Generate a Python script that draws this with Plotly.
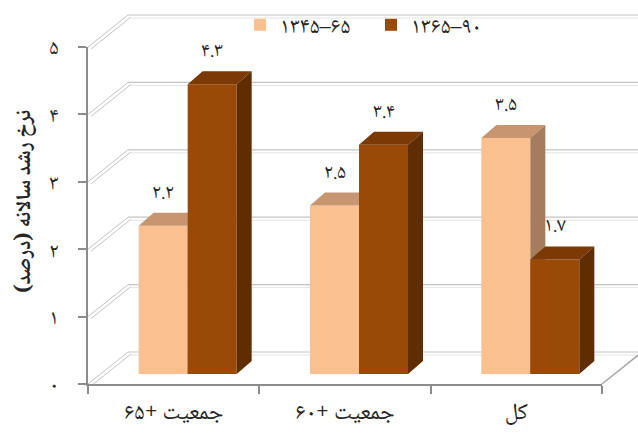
import plotly.graph_objects as go

# ---- data ----
categories = ["جمعیت +۶۵", "جمعیت +۶۰", "کل"]
series_names = ["۱۳۴۵–۶۵", "۱۳۶۵–۹۰"]
rate_1345_65 = [2.2, 2.5, 3.5]
rate_1365_90 = [4.3, 3.4, 1.7]
y_ticks = [0, 1, 2, 3, 4, 5]
y_title = "نرخ رشد سالانه (درصد)\u200f"

FA_DIGITS = str.maketrans("0123456789", "۰۱۲۳۴۵۶۷۸۹")


def fa(s):
    return str(s).translate(FA_DIGITS)


# ---- geometry (pixels) ----
W, H = 638, 433
FX0, FX1 = 88, 602          # front edge of the floor
FY0, PPU = 384, 67.4        # y pixel of value 0 on the front axis, pixels per unit
YMAX = 5
WDX, WDY = 40, 32           # depth of the walls
BDX, BDY = 14, 10           # shift of the bar row behind the front edge
TDX, TDY = 15, 13           # thickness of each bar
BAR_W = 0.286               # bar width in category units

FONT = "Noto Naskh Arabic, Noto Sans Arabic, DejaVu Sans, sans-serif"
TEXT = "#262626"
LIGHT = dict(front="#FAC090", top="#C79671", side="#A57D5D")
DARK = dict(front="#9A4A07", top="#7A3905", side="#602D03")


def px(x):
    return x / W


def py(y):
    return 1 - y / H


n = len(categories)
ux = (FX1 - FX0) / n        # pixels per category
dx, dy = TDX / ux, TDY / PPU

fig = go.Figure()

# hidden trace keeps the front frame subplot alive
fig.add_trace(go.Scatter(x=[categories[0]], y=[0], mode="markers",
                         marker=dict(opacity=0), showlegend=False,
                         hoverinfo="skip", xaxis="x", yaxis="y"))


def add_series(values, name, colors, offset, xa, ya):
    xs = list(range(n))
    fig.add_trace(go.Bar(x=xs, y=values, width=BAR_W, offset=offset,
                         marker=dict(color=colors["front"], line=dict(width=0)),
                         name=name, xaxis=xa, yaxis=ya))
    tx, ty, sx, sy = [], [], [], []
    for i, v in enumerate(values):
        x0 = i + offset
        x1 = x0 + BAR_W
        tx += [x0, x1, x1 + dx, x0 + dx, x0, None]
        ty += [v, v, v + dy, v + dy, v, None]
        sx += [x1, x1, x1 + dx, x1 + dx, x1, None]
        sy += [0, v, v + dy, dy, 0, None]
    fig.add_trace(go.Scatter(x=tx, y=ty, mode="lines", fill="toself",
                             fillcolor=colors["top"], line=dict(width=0),
                             showlegend=False, hoverinfo="skip",
                             xaxis=xa, yaxis=ya))
    fig.add_trace(go.Scatter(x=sx, y=sy, mode="lines", fill="toself",
                             fillcolor=colors["side"], line=dict(width=0),
                             showlegend=False, hoverinfo="skip",
                             xaxis=xa, yaxis=ya))
    for i, v in enumerate(values):
        fig.add_annotation(x=i + offset + BAR_W / 2, y=v + dy,
                           xref=xa, yref=ya, text=fa(f"{v:.1f}"),
                           showarrow=False, yanchor="bottom", yshift=0,
                           font=dict(family=FONT, size=20, color=TEXT))


add_series(rate_1345_65, series_names[0], LIGHT, -BAR_W, "x2", "y2")
add_series(rate_1365_90, series_names[1], DARK, 0.0, "x3", "y3")

# vertical value-axis title
fig.add_annotation(x=px(25), y=py(202), xref="paper", yref="paper",
                   text=f"<b>{y_title}</b>", textangle=-90, showarrow=False,
                   xanchor="center", yanchor="middle",
                   font=dict(family=FONT, size=21, color=TEXT))

# ---- walls, floor and 3D gridlines ----
shapes = []
GRID = "#C4C4C4"
GRID2 = "#E4E4E4"
for v in y_ticks:
    yf = FY0 - v * PPU
    yb = yf - WDY
    shapes.append(dict(type="line", x0=px(FX0), y0=py(yf), x1=px(FX0 + WDX), y1=py(yb),
                       line=dict(color=GRID, width=1)))
    shapes.append(dict(type="line", x0=px(FX0 + 3), y0=py(yf + 2), x1=px(FX0 + WDX + 3), y1=py(yb + 2),
                       line=dict(color=GRID, width=1)))
    shapes.append(dict(type="line", x0=px(FX0 + WDX), y0=py(yb), x1=1, y1=py(yb),
                       line=dict(color=GRID, width=1.2)))
    shapes.append(dict(type="line", x0=px(FX0 + WDX + 3), y0=py(yb + 3), x1=1, y1=py(yb + 3),
                       line=dict(color=GRID2, width=1)))
# right edge of the floor
shapes.append(dict(type="line", x0=px(FX1), y0=py(FY0), x1=px(FX1 + WDX), y1=py(FY0 - WDY),
                   line=dict(color="#A6A6A6", width=1.5)))
for s in shapes:
    s.update(xref="paper", yref="paper", layer="below")

AXIS_GRAY = "#8C8C8C"
fig.update_layout(
    width=W, height=H,
    margin=dict(l=0, r=0, t=0, b=0),
    paper_bgcolor="white", plot_bgcolor="rgba(0,0,0,0)",
    shapes=shapes,
    showlegend=True,
    legend=dict(orientation="h", x=px(240), y=py(25), xanchor="left", yanchor="middle",
                font=dict(family=FONT, size=22, color=TEXT),
                entrywidth=86, entrywidthmode="pixels",
                bgcolor="rgba(0,0,0,0)", traceorder="normal"),
    xaxis=dict(domain=[px(FX0), px(FX1)], type="category",
               categoryorder="array", categoryarray=categories,
               range=[-0.5, n - 0.5], tickson="boundaries",
               ticks="outside", ticklen=8, tickcolor=AXIS_GRAY, tickwidth=1.5,
               showline=True, linecolor=AXIS_GRAY, linewidth=2,
               showgrid=False, zeroline=False, fixedrange=True,
               tickfont=dict(family=FONT, size=23, color=TEXT),
               ticklabelstandoff=5, automargin=False, anchor="y"),
    yaxis=dict(domain=[py(FY0), py(FY0 - YMAX * PPU)], range=[0, YMAX],
               tickvals=y_ticks, ticktext=[fa(v) for v in y_ticks],
               ticks="outside", ticklen=8, tickcolor=AXIS_GRAY, tickwidth=1.5,
               showline=True, linecolor=AXIS_GRAY, linewidth=2,
               showgrid=False, zeroline=False, fixedrange=True,
               tickfont=dict(family=FONT, size=21, color=TEXT),
               ticklabelstandoff=15, automargin=False, anchor="x"),
    xaxis2=dict(domain=[px(FX0 + BDX), px(FX1 + BDX)], range=[-0.5, n - 0.5],
                visible=False, fixedrange=True, anchor="y2"),
    yaxis2=dict(domain=[py(FY0 - BDY), py(FY0 - BDY - YMAX * PPU)], range=[0, YMAX],
                visible=False, fixedrange=True, anchor="x2"),
    xaxis3=dict(overlaying="x2", range=[-0.5, n - 0.5], visible=False,
                fixedrange=True, anchor="y3"),
    yaxis3=dict(overlaying="y2", range=[0, YMAX], visible=False,
                fixedrange=True, anchor="x3"),
)

fig.write_html("out.html")
